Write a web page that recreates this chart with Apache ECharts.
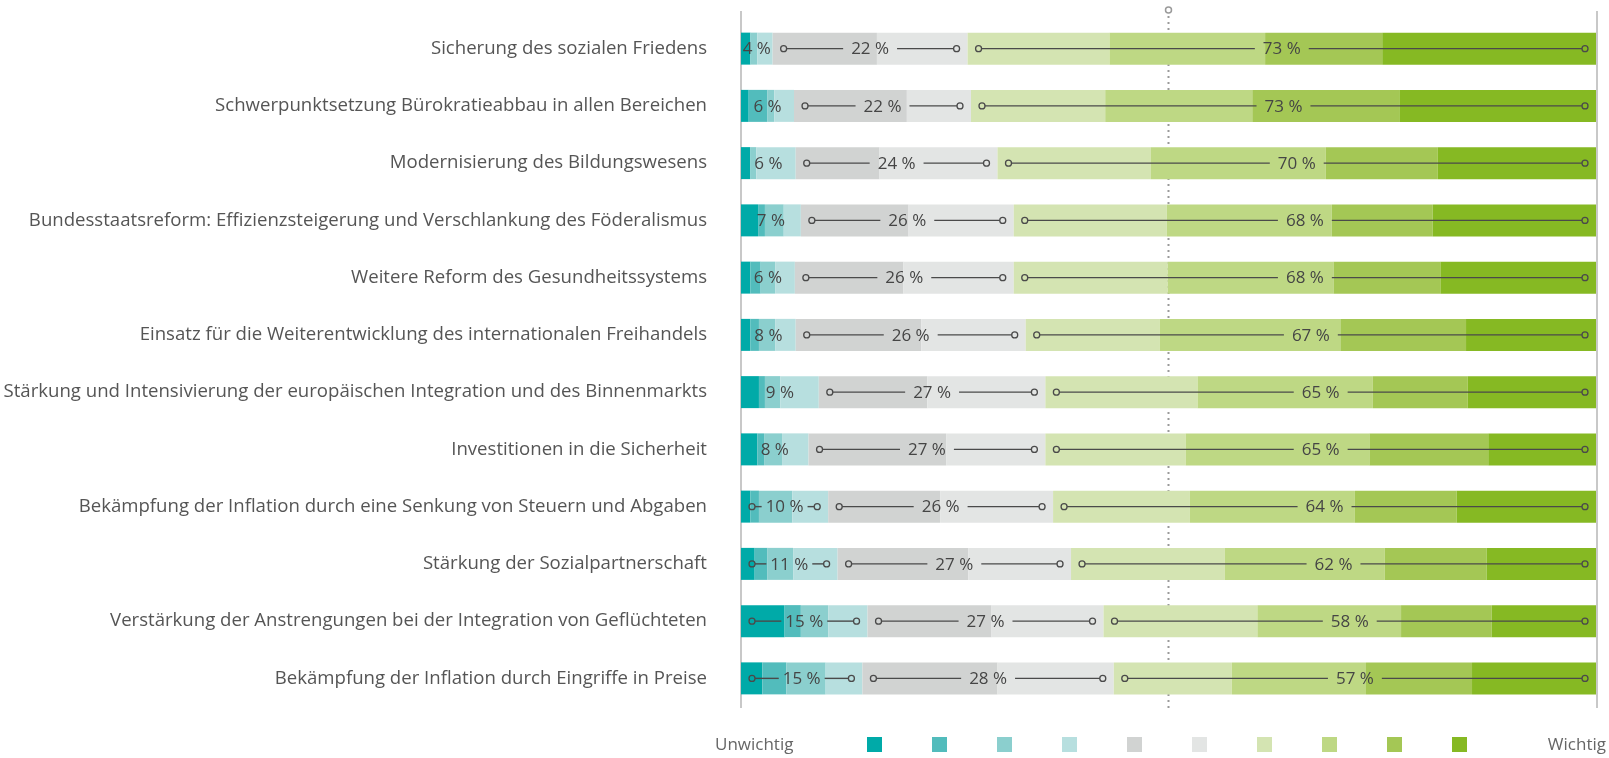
<!DOCTYPE html>
<html>
<head>
<meta charset="utf-8">
<script src="https://cdn.jsdelivr.net/npm/echarts@6/dist/echarts.min.js"></script>
<style>
html, body { margin: 0; padding: 0; background: #fff; }
#chart { width: 1609px; height: 758px; }
</style>
</head>
<body>
<div id="chart"></div>
<script>
var categories = [
  'Sicherung des sozialen Friedens',
  'Schwerpunktsetzung Bürokratieabbau in allen Bereichen',
  'Modernisierung des Bildungswesens',
  'Bundesstaatsreform: Effizienzsteigerung und Verschlankung des Föderalismus',
  'Weitere Reform des Gesundheitssystems',
  'Einsatz für die Weiterentwicklung des internationalen Freihandels',
  'Stärkung und Intensivierung der europäischen Integration und des Binnenmarkts',
  'Investitionen in die Sicherheit',
  'Bekämpfung der Inflation durch eine Senkung von Steuern und Abgaben',
  'Stärkung der Sozialpartnerschaft',
  'Verstärkung der Anstrengungen bei der Integration von Geflüchteten',
  'Bekämpfung der Inflation durch Eingriffe in Preise'
];

// Anteile je Skalenpunkt 1 (unwichtig) bis 10 (wichtig), in %
var s1 = [1.1, 0.9, 1.1, 2.0, 1.1, 1.1, 2.1, 1.9, 1.1, 1.6, 5.1, 2.5];
var s2 = [0, 2.2, 0, 0.8, 1.2, 1.0, 0.7, 0.8, 1.0, 1.5, 1.9, 2.8];
var s3 = [0.8, 0.8, 0.7, 2.2, 1.7, 1.9, 1.8, 2.1, 3.9, 3.0, 3.2, 4.6];
var s4 = [1.8, 2.3, 4.6, 2.0, 2.3, 2.4, 4.5, 3.1, 4.2, 5.2, 4.6, 4.3];
var s5 = [12.2, 13.2, 9.8, 12.6, 12.7, 14.7, 12.7, 16.1, 13.1, 15.3, 14.5, 15.8];
var s6 = [10.6, 7.5, 13.8, 12.3, 12.9, 12.2, 13.8, 11.6, 13.2, 12.0, 13.1, 13.6];
var s7 = [16.6, 15.7, 17.9, 17.9, 18.0, 15.7, 17.8, 16.4, 16.0, 18.0, 18.0, 13.8];
var s8 = [18.2, 17.2, 20.5, 19.3, 19.4, 21.1, 20.5, 21.5, 19.3, 18.7, 16.8, 15.7];
var s9 = [13.7, 17.2, 13.1, 11.8, 12.5, 14.7, 11.1, 13.9, 11.9, 11.9, 10.6, 12.4];
var s10 = [25.0, 23.0, 18.5, 19.1, 18.2, 15.2, 15.0, 12.6, 16.3, 12.8, 12.2, 14.5];

// Summenbeschriftungen
var lowLabels = [4, 6, 6, 7, 6, 8, 9, 8, 10, 11, 15, 15];
var midLabels = [22, 22, 24, 26, 26, 26, 27, 27, 26, 27, 27, 28];
var highLabels = [73, 73, 70, 68, 68, 67, 65, 65, 64, 62, 58, 57];

var colors = ['#00aaa8', '#52bcbc', '#8bcfce', '#b7dfdf', '#d1d3d2', '#e3e5e4', '#d4e4b2', '#bed884', '#a4c755', '#86b923'];
var legendLow = 'Unwichtig';
var legendHigh = 'Wichtig';

var fontFamily = '"Open Sans", sans-serif';
var chart = echarts.init(document.getElementById('chart'));
var values = [s1, s2, s3, s4, s5, s6, s7, s8, s9, s10];

var measureCtx = document.createElement('canvas').getContext('2d');
measureCtx.font = '17px "Open Sans"';

// Klammern: unwichtig (1-4), neutral (5-6), wichtig (7-10)
var brackets = [];
var bracketLabel = [];
categories.forEach(function(c, i) {
  var low = s1[i] + s2[i] + s3[i] + s4[i];
  var mid = s5[i] + s6[i];
  brackets.push([0, low, i]);
  bracketLabel.push(lowLabels[i]);
  brackets.push([low, low + mid, i]);
  bracketLabel.push(midLabels[i]);
  brackets.push([low + mid, 100, i]);
  bracketLabel.push(highLabels[i]);
});

function renderBracket(params, api) {
  var a = api.coord([api.value(0), api.value(2)]);
  var b = api.coord([api.value(1), api.value(2)]);
  var pct = bracketLabel[params.dataIndex];
  var text = pct + ' %';
  var tw = measureCtx.measureText(text).width;
  var cx = (a[0] + b[0]) / 2;
  var cy = a[1];
  var x0 = a[0] + 11;
  var x1 = b[0] - 11;
  var gap = pct < 20 ? 4 : 8;
  var l0 = cx - tw / 2 - gap;
  var r0 = cx + tw / 2 + gap;
  var children = [{
    type: 'text',
    style: {
      text: text, x: cx, y: cy + 1, align: 'center', verticalAlign: 'middle',
      font: '17px ' + fontFamily, fill: '#454545'
    }
  }];
  // kleine Anteile ohne Klammer
  if (pct >= 10) {
    var lineStyle = { stroke: '#4a4a4a', lineWidth: 1.4 };
    children.push({ type: 'line', shape: { x1: x0 + 3, y1: cy, x2: l0, y2: cy }, style: lineStyle });
    children.push({ type: 'line', shape: { x1: r0, y1: cy, x2: x1 - 3, y2: cy }, style: lineStyle });
    children.push({ type: 'circle', shape: { cx: x0, cy: cy, r: 3 }, style: { stroke: '#4a4a4a', fill: 'none', lineWidth: 1.3 } });
    children.push({ type: 'circle', shape: { cx: x1, cy: cy, r: 3 }, style: { stroke: '#4a4a4a', fill: 'none', lineWidth: 1.3 } });
  }
  return { type: 'group', children: children };
}

var series = values.map(function(v, k) {
  return {
    name: String(k + 1),
    type: 'bar',
    stack: 'all',
    barWidth: 32,
    z: 2,
    itemStyle: { color: colors[k] },
    emphasis: { disabled: true },
    data: v
  };
});
series.push({
  type: 'custom',
  z: 5,
  renderItem: renderBracket,
  encode: { x: [0, 1], y: 2 },
  data: brackets,
  silent: true
});

var option = {
  animation: false,
  textStyle: { fontFamily: fontFamily },
  grid: { left: 741, right: 13, top: 20, bottom: 51, containLabel: false, outerBoundsMode: 'none' },
  xAxis: { type: 'value', min: 0, max: 100, show: false },
  yAxis: {
    type: 'category',
    inverse: true,
    data: categories,
    axisLine: { show: false },
    axisTick: { show: false },
    axisLabel: { fontSize: 18.6, color: '#555', margin: 34, fontFamily: fontFamily }
  },
  legend: {
    data: values.map(function(v, k) { return String(k + 1); }),
    formatter: function() { return ''; },
    icon: 'rect',
    itemWidth: 15,
    itemHeight: 15,
    itemGap: 50,
    left: 862,
    top: 732,
    selectedMode: false
  },
  series: series
};
chart.setOption(option);

// Achsenlinien und Mittellinie
var pL = chart.convertToPixel({ gridIndex: 0 }, [0, 0]);
var pM = chart.convertToPixel({ gridIndex: 0 }, [50, 0]);
var pR = chart.convertToPixel({ gridIndex: 0 }, [100, 0]);
var yTop = 11, yBottom = 708;
chart.setOption({
  graphic: [
    { type: 'line', z: 0, shape: { x1: pL[0], y1: yTop, x2: pL[0], y2: yBottom }, style: { stroke: '#c8c8c8', lineWidth: 2 } },
    { type: 'line', z: 0, shape: { x1: pR[0] + 1, y1: yTop, x2: pR[0] + 1, y2: yBottom }, style: { stroke: '#c8c8c8', lineWidth: 2 } },
    { type: 'line', z: 0, shape: { x1: pM[0], y1: 16, x2: pM[0], y2: yBottom }, style: { stroke: '#9a9a9a', lineWidth: 2, lineDash: [2, 4] } },
    { type: 'circle', z: 0, shape: { cx: pM[0], cy: 10, r: 3 }, style: { stroke: '#9a9a9a', fill: '#fff', lineWidth: 1.5 } },
    { type: 'text', z: 0, style: { text: legendLow, x: 715, y: 745, verticalAlign: 'middle', font: '17px ' + fontFamily, fill: '#666' } },
    { type: 'text', z: 0, style: { text: legendHigh, x: 1606, y: 745, align: 'right', verticalAlign: 'middle', font: '17px ' + fontFamily, fill: '#666' } }
  ]
});
</script>
</body>
</html>
